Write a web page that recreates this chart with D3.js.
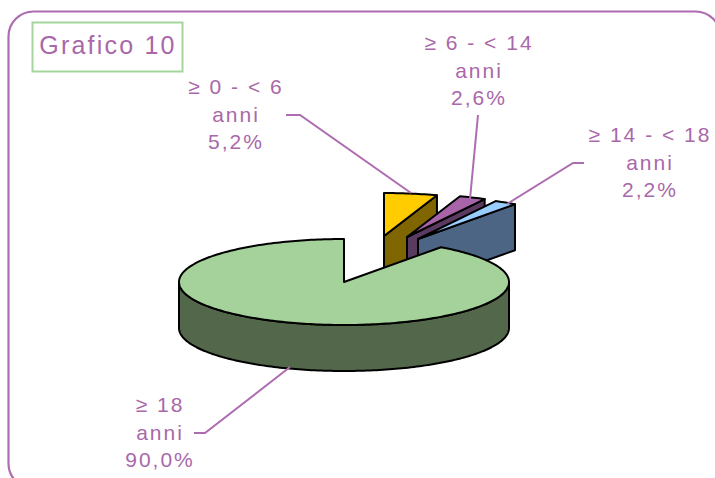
<!DOCTYPE html>
<html><head><meta charset="utf-8">
<script src="https://cdnjs.cloudflare.com/ajax/libs/d3/7.8.5/d3.min.js"></script>
<style>html,body{margin:0;padding:0;background:#fff;overflow:hidden}svg{display:block}
text{font-family:"Liberation Sans",Arial,sans-serif;fill:#a968a9;text-anchor:middle;dominant-baseline:central}</style>
</head><body><svg id="c" width="715" height="478"></svg>
<script>
const categories = ["≥ 0 - < 6", "≥ 6 - < 14", "≥ 14 - < 18", "≥ 18"];
const values = [5.2, 2.6, 2.2, 90.0];
const unit = "anni";
const chartTitle = "Grafico 10";

const topColors = ["#ffcc00", "#a864a8", "#99ccff", "#a5d29b"];
const wallColors = ["#806600", "#5a3a60", "#4d6585", "#53684b"];
const explodeX = [40, 63, 74, 0];
const explodeY = [-46, -45, -43, 0];
const labelX = [236, 479, 650, 160];
const labelY = [114, 70, 162, 432];
const leaders = [
  [[286,115],[300,115],[411,193]],
  [[478,115],[470,199]],
  [[584,163],[573,163],[507,204]],
  [[194,433],[205,433],[290,367]]
];

const svg = d3.select("#c");
const purple = "#ad6cb0";
const cx = 344, cy = 282, rx = 165, ry = 43, depth = 46;
const sx = d3.scaleLinear().domain([-1, 1]).range([cx - rx, cx + rx]);
const sy = d3.scaleLinear().domain([-1, 1]).range([cy - ry, cy + ry]);
const pie = d3.pie().sort(null).startAngle(0).endAngle(2 * Math.PI);
const arcs = pie(values);
const line = d3.line();

svg.append("rect").attr("x", 8.5).attr("y", 11.5).attr("width", 712).attr("height", 477)
  .attr("rx", 25).attr("fill", "#fff").attr("stroke", purple).attr("stroke-width", 2.2);

function pt(a, r, i, dz) {
  return [sx(r * Math.sin(a)) + explodeX[i], sy(-r * Math.cos(a)) + explodeY[i] + (dz || 0)];
}
function arcPts(a0, a1, i, dz) {
  const n = Math.max(2, Math.ceil((a1 - a0) / 0.02));
  return d3.range(n + 1).map(k => pt(a0 + (a1 - a0) * k / n, 1, i, dz));
}
function poly(g, pts, fill) {
  g.append("path").attr("d", line(pts) + "Z").attr("fill", fill)
    .attr("stroke", "#000").attr("stroke-width", 2).attr("stroke-linejoin", "round");
}

arcs.forEach((d, i) => {
  const g = svg.append("g");
  const a0 = d.startAngle, a1 = d.endAngle;
  const big = i === arcs.length - 1;
  if (!big) {
    const c0 = pt(0, 0, i), c1 = pt(a1, 1, i), c2 = pt(a1, 1, i, depth), c3 = pt(0, 0, i, depth);
    poly(g, [c0, c1, c2, c3], wallColors[i]);
  } else {
    const r0 = Math.PI / 2, r1 = 3 * Math.PI / 2;
    const upper = arcPts(r0, r1, i);
    const lower = arcPts(r0, r1, i, depth).reverse();
    poly(g, upper.concat(lower), wallColors[i]);
  }
  poly(g, [pt(0, 0, i)].concat(arcPts(a0, a1, i)), topColors[i]);
});

leaders.forEach(l => {
  svg.append("path").attr("d", line(l)).attr("fill", "none")
    .attr("stroke", purple).attr("stroke-width", 2);
});

categories.forEach((c, i) => {
  const lines = [c, unit, values[i].toFixed(1).replace(".", ",") + "%"];
  lines.forEach((t, k) => {
    svg.append("text").attr("x", labelX[i]).attr("y", labelY[i] + (k - 1) * 27.5)
      .attr("font-size", 21).attr("letter-spacing", 2).text(t);
  });
});

svg.append("rect").attr("x", 32.5).attr("y", 22.5).attr("width", 150).attr("height", 49)
  .attr("fill", "#fff").attr("stroke", "#a5d59d").attr("stroke-width", 2);
svg.append("text").attr("x", 108).attr("y", 45).attr("font-size", 25)
  .attr("letter-spacing", 2.2).text(chartTitle);
</script></body></html>
